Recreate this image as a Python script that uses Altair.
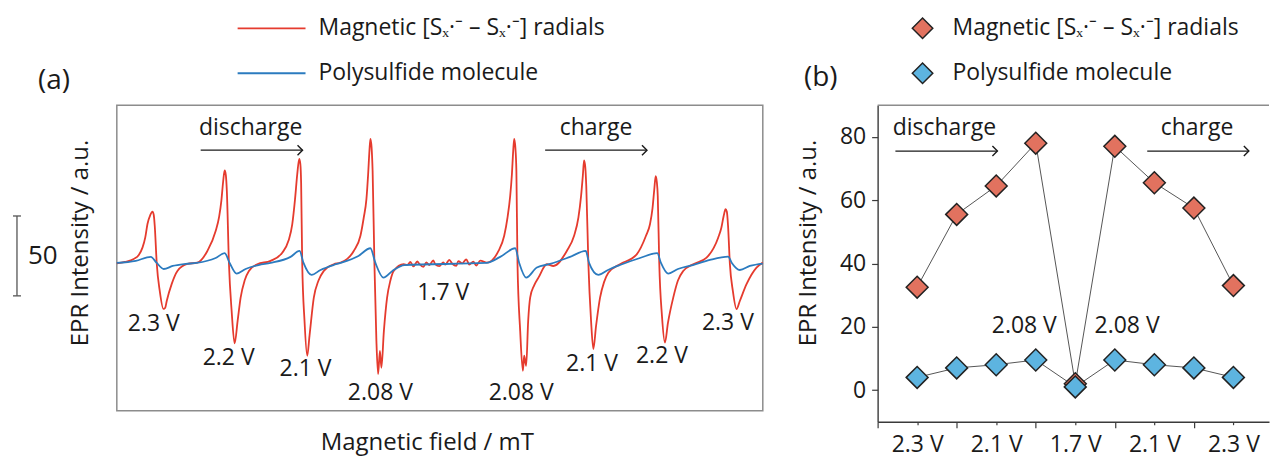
import altair as alt
import pandas as pd

FONT = "Open Sans"
TXT = "#1a1a1a"
RED_LINE = "#e53b2e"
BLUE_LINE = "#2b7bbf"
RED_FILL = "#e2725f"
BLUE_FILL = "#5db4e0"
FS = 23

# ---------------- panel (a): EPR spectra (field offset, intensity a.u.) ----------------
red_field = [0, 8, 17, 22, 25.7, 28.5, 30.7, 33.5, 35.7, 37, 38, 40, 43, 46.7, 48.5, 50, 55, 60.7, 70.7,
             80.7, 90.7, 99, 102.5, 104.7, 106.5, 108, 109.2, 110.2, 112.3, 115, 118, 121, 124, 128, 132.3, 140.7,
             154, 165.7, 172, 175.7, 178.5, 180.7, 182.7, 183.8, 184.6, 185.7, 188, 190.7, 193, 197.3, 202, 207.3, 217.3,
             224, 237.3, 244, 247.3, 250, 251.7, 253, 254, 255.2, 256.2, 258, 260, 261.7, 263.5, 265, 267.5, 270.7, 274, 277.3, 287.3,
             291, 294, 297, 301, 303, 307, 310, 313, 317, 319, 323, 327, 329, 333, 336, 340, 342, 346, 350, 353, 357, 360, 364, 370.7,
             382.3, 388, 391.3, 394, 395.7, 397, 398, 399.2, 400.2, 401.3, 404, 406.7, 408, 410, 412, 414, 418, 422.3, 430.7,
             437.3, 450.7, 458, 462.3, 465, 466.8, 468, 469.2, 470.2, 472.3, 475, 477.3, 480, 484, 488, 492.3, 504,
             520.7, 530, 534, 536.5, 538.3, 539.7, 540.8, 541.8, 543.3, 546, 549, 552, 557.3, 562, 567.3, 577.3,
             590.7, 602.3, 605.5, 607.8, 609.7, 611, 612.2, 614, 617, 620.7, 624, 630.7, 640.7, 647]
red_int = [-0.3, 0.6, 2.5, 5, 9.6, 16, 24.4, 30, 32.1, 30, 23.1, -0.4, -17.5, -28.8, -28, -23.8, -13.1, -5, -0.6,
           0.2, 7.5, 20, 29, 38.8, 51, 57.9, 55, 45, -0.4, -30, -50.4, -36.3, -21.7, -11, -5, -0.8,
           1.3, 6.4, 14, 24.2, 40, 55.4, 65.2, 62, 50, -0.4, -36.3, -58.1, -45.6, -21.7, -11, -5, -0.8,
           0.2, 7.5, 17, 28.3, 40, 55.4, 70, 77.7, 72, 57.5, -0.4, -48.8, -69.6, -55, -65.6, -42.5, -21.7, -11, -5, -0.8,
           -1.2, 0.6, -2.2, 0.9, -0.6, -2.5, 0.3, -1.4, 1.6, -0.9, -2.0, 0.4, -1.1, 1.9, -0.5, -1.8, 1.2, -0.3, 2.3, -1.0, 0.8, -1.6, 1.4, 0.2,
           7.5, 17, 28.3, 42, 55.4, 70, 77.7, 72, 57.5, -0.4, -42.5, -67.5, -58.1, -64.4, -36.3, -21.7, -14, -9.2, -0.8,
           -1.9, 7.5, 17, 28.3, 42, 55, 64.2, 60, 48.1, -0.4, -36.3, -53.9, -39.4, -21.7, -12, -6.1, -0.8,
           5.4, 17, 24.2, 34, 46, 54.4, 51, 41.9, -0.4, -33.1, -49.8, -37.5, -21.7, -11, -5, -0.8,
           3.3, 15.8, 22, 29.4, 33.6, 32, 23.1, -0.4, -17.5, -28.9, -23.8, -13.3, -2.9, 0.2]

blue_field = [0, 19, 34, 40, 47, 56, 69,
              80, 99, 108, 113, 120, 129, 142,
              154, 174, 183, 187, 195, 204, 217,
              224, 242, 254, 259, 267, 276, 288,
              370, 384, 399, 403, 410, 420.7, 434,
              454, 469.7, 473, 482.3, 492, 504,
              524, 541.3, 545, 552.3, 562, 577,
              594, 612.3, 616, 624, 634, 647]
blue_int = [0, 1.3, 3.8, 0, -3.8, -1.9, -0.6,
            0, 3.1, 6.1, 0, -6.7, -3.8, -1.3,
            0, 3.8, 7.5, 0, -7.5, -4.4, -1.3,
            0, 4.4, 9.2, 0, -9.2, -5, -1.3,
            0, 3.8, 9.2, 0, -9.2, -2.9, -0.6,
            3.8, 7.5, 0, -7.5, -4.4, -1.3,
            3.1, 6.1, 0, -6.7, -3.8, -1.3,
            1.9, 3.9, 0, -4.4, -1.9, -0.4]

spec_labels = ["2.3 V", "2.2 V", "2.1 V", "2.08 V", "1.7 V", "2.08 V", "2.1 V", "2.2 V", "2.3 V"]
spec_label_x = [37, 112, 189, 264, 327, 405, 476, 546, 612]
spec_label_y = [-38.1, -59.4, -66.3, -81.3, -18.8, -81.3, -63.1, -58.1, -37.5]

a_dir_text = ["discharge", "charge"]
a_dir_x = [134, 480]
a_dir_y = [84.4, 84.4]
a_arrow_x1 = [84, 429]
a_arrow_x2 = [186, 531]
a_arrow_y = [70.6, 70.6]

scale_bar_x = -100
scale_bar_top = 29.4
scale_bar_len = 50

# ---------------- panel (b): intensity vs. state ----------------
b_steps = [1, 2, 3, 4, 5, 6, 7, 8, 9]
b_red = [32.5, 55.5, 64.5, 78, 2, 77, 65.5, 57.5, 33]
b_blue = [4, 7, 8, 9.5, 1, 9.5, 8, 7, 4]
b_tick_pos = [1, 3, 5, 7, 9]
b_tick_labels = ["2.3 V", "2.1 V", "1.7 V", "2.1 V", "2.3 V"]

b_dir_text = ["discharge", "charge"]
b_dir_x = [1.69, 8.08]
b_dir_y = [82.7, 82.7]
b_arrow_x1 = [0.45, 6.82]
b_arrow_x2 = [3.03, 9.39]
b_arrow_y = [75.5, 75.5]
b_note_text = ["2.08 V", "2.08 V"]
b_note_x = [3.71, 6.31]
b_note_y = [20.3, 20.3]

legend_red = "Magnetic [S\u2093\u00b7\u207b \u2013 S\u2093\u00b7\u207b] radials"
legend_blue = "Polysulfide molecule"

one = pd.DataFrame({"k": [0]})
CHEVRON = "M-1,-1L0,0L-1,1"

# ======================= panel (a) =======================
AW, AH = 647, 306
xa = alt.X("x:Q", scale=alt.Scale(domain=[0, 647], nice=False, zero=False), axis=None)
ya = alt.Y("y:Q", scale=alt.Scale(domain=[-92.5, 98.75], nice=False, zero=False), axis=None)

a_red = alt.Chart(pd.DataFrame({"x": red_field, "y": red_int})).mark_line(
    color=RED_LINE, strokeWidth=1.8, interpolate="monotone").encode(x=xa, y=ya)
a_blue = alt.Chart(pd.DataFrame({"x": blue_field, "y": blue_int})).mark_line(
    color=BLUE_LINE, strokeWidth=1.8, interpolate="monotone").encode(x="x:Q", y="y:Q")
a_labels = alt.Chart(pd.DataFrame({"x": spec_label_x, "y": spec_label_y, "t": spec_labels})).mark_text(
    font=FONT, fontSize=FS, color=TXT).encode(x="x:Q", y="y:Q", text="t:N")
a_dir = alt.Chart(pd.DataFrame({"x": a_dir_x, "y": a_dir_y, "t": a_dir_text})).mark_text(
    font=FONT, fontSize=FS, color=TXT).encode(x="x:Q", y="y:Q", text="t:N")
a_arr_df = pd.DataFrame({"x": a_arrow_x1, "x2": a_arrow_x2, "y": a_arrow_y})
a_arr = alt.Chart(a_arr_df).mark_rule(color=TXT, strokeWidth=1.4).encode(x="x:Q", x2="x2:Q", y="y:Q")
a_head = alt.Chart(a_arr_df).mark_point(shape=CHEVRON, filled=False, size=100, color=TXT,
                                        strokeWidth=1.4, opacity=1).encode(x="x2:Q", y="y:Q")

sb_df = pd.DataFrame({"x": [scale_bar_x], "y": [scale_bar_top], "y2": [scale_bar_top - scale_bar_len]})
a_sb = alt.Chart(sb_df).mark_rule(color="#555555", strokeWidth=1.3).encode(x="x:Q", y="y:Q", y2="y2:Q")
cap_df = pd.DataFrame({"x": [scale_bar_x - 4] * 2, "x2": [scale_bar_x + 4] * 2,
                       "y": [scale_bar_top, scale_bar_top - scale_bar_len]})
a_caps = alt.Chart(cap_df).mark_rule(color="#555555", strokeWidth=1.3).encode(x="x:Q", x2="x2:Q", y="y:Q")
a_sb_txt = alt.Chart(pd.DataFrame({"x": [scale_bar_x + 11], "y": [scale_bar_top - scale_bar_len / 2], "t": ["50"]})).mark_text(
    font=FONT, fontSize=26, color=TXT, align="left").encode(x="x:Q", y="y:Q", text="t:N")

def vtext(t, x, y, size=FS, align="center", angle=0):
    kw = dict(font=FONT, fontSize=size, color=TXT, align=align, baseline="middle")
    if angle:
        kw["angle"] = angle
    return alt.Chart(one).mark_text(text=t, **kw).encode(x=alt.value(x), y=alt.value(y))

a_ytitle = vtext("EPR Intensity / a.u.", -36, 138, size=24, angle=270)
a_xtitle = vtext("Magnetic field / mT", 311, 338, size=24)
a_tag = vtext("(a)", -63, -24, size=28)
a_leg_l1 = alt.Chart(one).mark_rule(color=RED_LINE, strokeWidth=1.8).encode(
    x=alt.value(121), x2=alt.value(189), y=alt.value(-77))
a_leg_l2 = alt.Chart(one).mark_rule(color=BLUE_LINE, strokeWidth=1.8).encode(
    x=alt.value(121), x2=alt.value(189), y=alt.value(-32))
a_leg_t1 = vtext(legend_red, 202, -77, align="left")
a_leg_t2 = vtext(legend_blue, 202, -32, align="left")
a_anchor = alt.Chart(one).mark_rect(opacity=0).encode(
    x=alt.value(-116), x2=alt.value(-115), y=alt.value(-104), y2=alt.value(-103))

panel_a = alt.layer(a_red, a_blue, a_labels, a_dir, a_arr, a_head, a_sb, a_caps, a_sb_txt,
                    a_ytitle, a_xtitle, a_tag, a_leg_l1, a_leg_l2, a_leg_t1, a_leg_t2, a_anchor).properties(
    width=AW, height=AH, view=alt.ViewBackground(stroke="#8c8c8c", strokeWidth=1.5))

# ======================= panel (b) =======================
BW, BH = 392, 317
x_expr = " : ".join(f"datum.value == {p} ? '{l}'" for p, l in zip(b_tick_pos, b_tick_labels)) + " : ''"
xb = alt.X("x:Q", scale=alt.Scale(domain=[0, 9.9], nice=False, zero=False),
           axis=alt.Axis(values=list(range(10)), labelExpr=x_expr, title=None, grid=False,
                         labelFont=FONT, labelFontSize=FS, labelColor=TXT, labelPadding=9,
                         labelFlush=False, labelOverlap=False,
                         domainColor="#3a3a3a", domainWidth=1.4, tickColor="#3a3a3a", tickWidth=1.2,
                         tickSize={"condition": {"test": "datum.value % 2 == 0", "value": 6}, "value": 3}))
yb = alt.Y("y:Q", scale=alt.Scale(domain=[-10, 90], nice=False, zero=False),
           axis=alt.Axis(values=list(range(0, 90, 10)), labelExpr="datum.value % 20 == 0 ? datum.label : ''",
                         title=None, grid=False, labelFont=FONT, labelFontSize=FS, labelColor=TXT,
                         labelPadding=6, labelFlush=False, labelOverlap=False,
                         domainColor="#3a3a3a", domainWidth=1.4, tickColor="#3a3a3a", tickWidth=1.2,
                         tickSize={"condition": {"test": "datum.value % 20 == 0", "value": 6}, "value": 3}))

red_df = pd.DataFrame({"x": b_steps, "y": b_red})
blue_df = pd.DataFrame({"x": b_steps, "y": b_blue})
b_rl = alt.Chart(red_df).mark_line(color="#555555", strokeWidth=1).encode(x=xb, y=yb)
b_bl = alt.Chart(blue_df).mark_line(color="#555555", strokeWidth=1).encode(x="x:Q", y="y:Q")
b_rp = alt.Chart(red_df).mark_point(shape="diamond", filled=True, size=480, fill=RED_FILL, stroke="#222222",
                                    strokeWidth=1.5, opacity=1).encode(x="x:Q", y="y:Q")
b_bp = alt.Chart(blue_df).mark_point(shape="diamond", filled=True, size=480, fill=BLUE_FILL, stroke="#222222",
                                     strokeWidth=1.5, opacity=1).encode(x="x:Q", y="y:Q")
b_dir = alt.Chart(pd.DataFrame({"x": b_dir_x, "y": b_dir_y, "t": b_dir_text})).mark_text(
    font=FONT, fontSize=FS, color=TXT).encode(x="x:Q", y="y:Q", text="t:N")
b_arr_df = pd.DataFrame({"x": b_arrow_x1, "x2": b_arrow_x2, "y": b_arrow_y})
b_arr = alt.Chart(b_arr_df).mark_rule(color=TXT, strokeWidth=1.4).encode(x="x:Q", x2="x2:Q", y="y:Q")
b_head = alt.Chart(b_arr_df).mark_point(shape=CHEVRON, filled=False, size=100, color=TXT,
                                        strokeWidth=1.4, opacity=1).encode(x="x2:Q", y="y:Q")
b_note = alt.Chart(pd.DataFrame({"x": b_note_x, "y": b_note_y, "t": b_note_text})).mark_text(
    font=FONT, fontSize=FS, color=TXT).encode(x="x:Q", y="y:Q", text="t:N")
b_top = alt.Chart(one).mark_rule(color="#8c8c8c", strokeWidth=1.5).encode(
    x=alt.value(0), x2=alt.value(BW), y=alt.value(0))
b_ytitle = vtext("EPR Intensity / a.u.", -69, 138, size=24, angle=270)
b_tag = vtext("(b)", -57, -27, size=28)
b_leg_p1 = alt.Chart(one).mark_point(shape="diamond", filled=True, size=420, fill=RED_FILL, stroke="#222222",
                                     strokeWidth=1.5, opacity=1).encode(x=alt.value(45), y=alt.value(-77))
b_leg_p2 = alt.Chart(one).mark_point(shape="diamond", filled=True, size=420, fill=BLUE_FILL, stroke="#222222",
                                     strokeWidth=1.5, opacity=1).encode(x=alt.value(45), y=alt.value(-32))
b_leg_t1 = vtext(legend_red, 75, -77, align="left")
b_leg_t2 = vtext(legend_blue, 75, -32, align="left")

panel_b = alt.layer(b_rl, b_bl, b_rp, b_bp, b_dir, b_arr, b_head, b_note, b_top, b_ytitle, b_tag,
                    b_leg_p1, b_leg_p2, b_leg_t1, b_leg_t2).properties(
    width=BW, height=BH, view=alt.ViewBackground(stroke="transparent"))

chart = alt.hconcat(panel_a, panel_b, spacing=115, bounds="flush").properties(
    padding=0, background="white").configure_view(stroke="transparent")

chart.save("out.html", embed_options={"renderer": "svg", "actions": False})
